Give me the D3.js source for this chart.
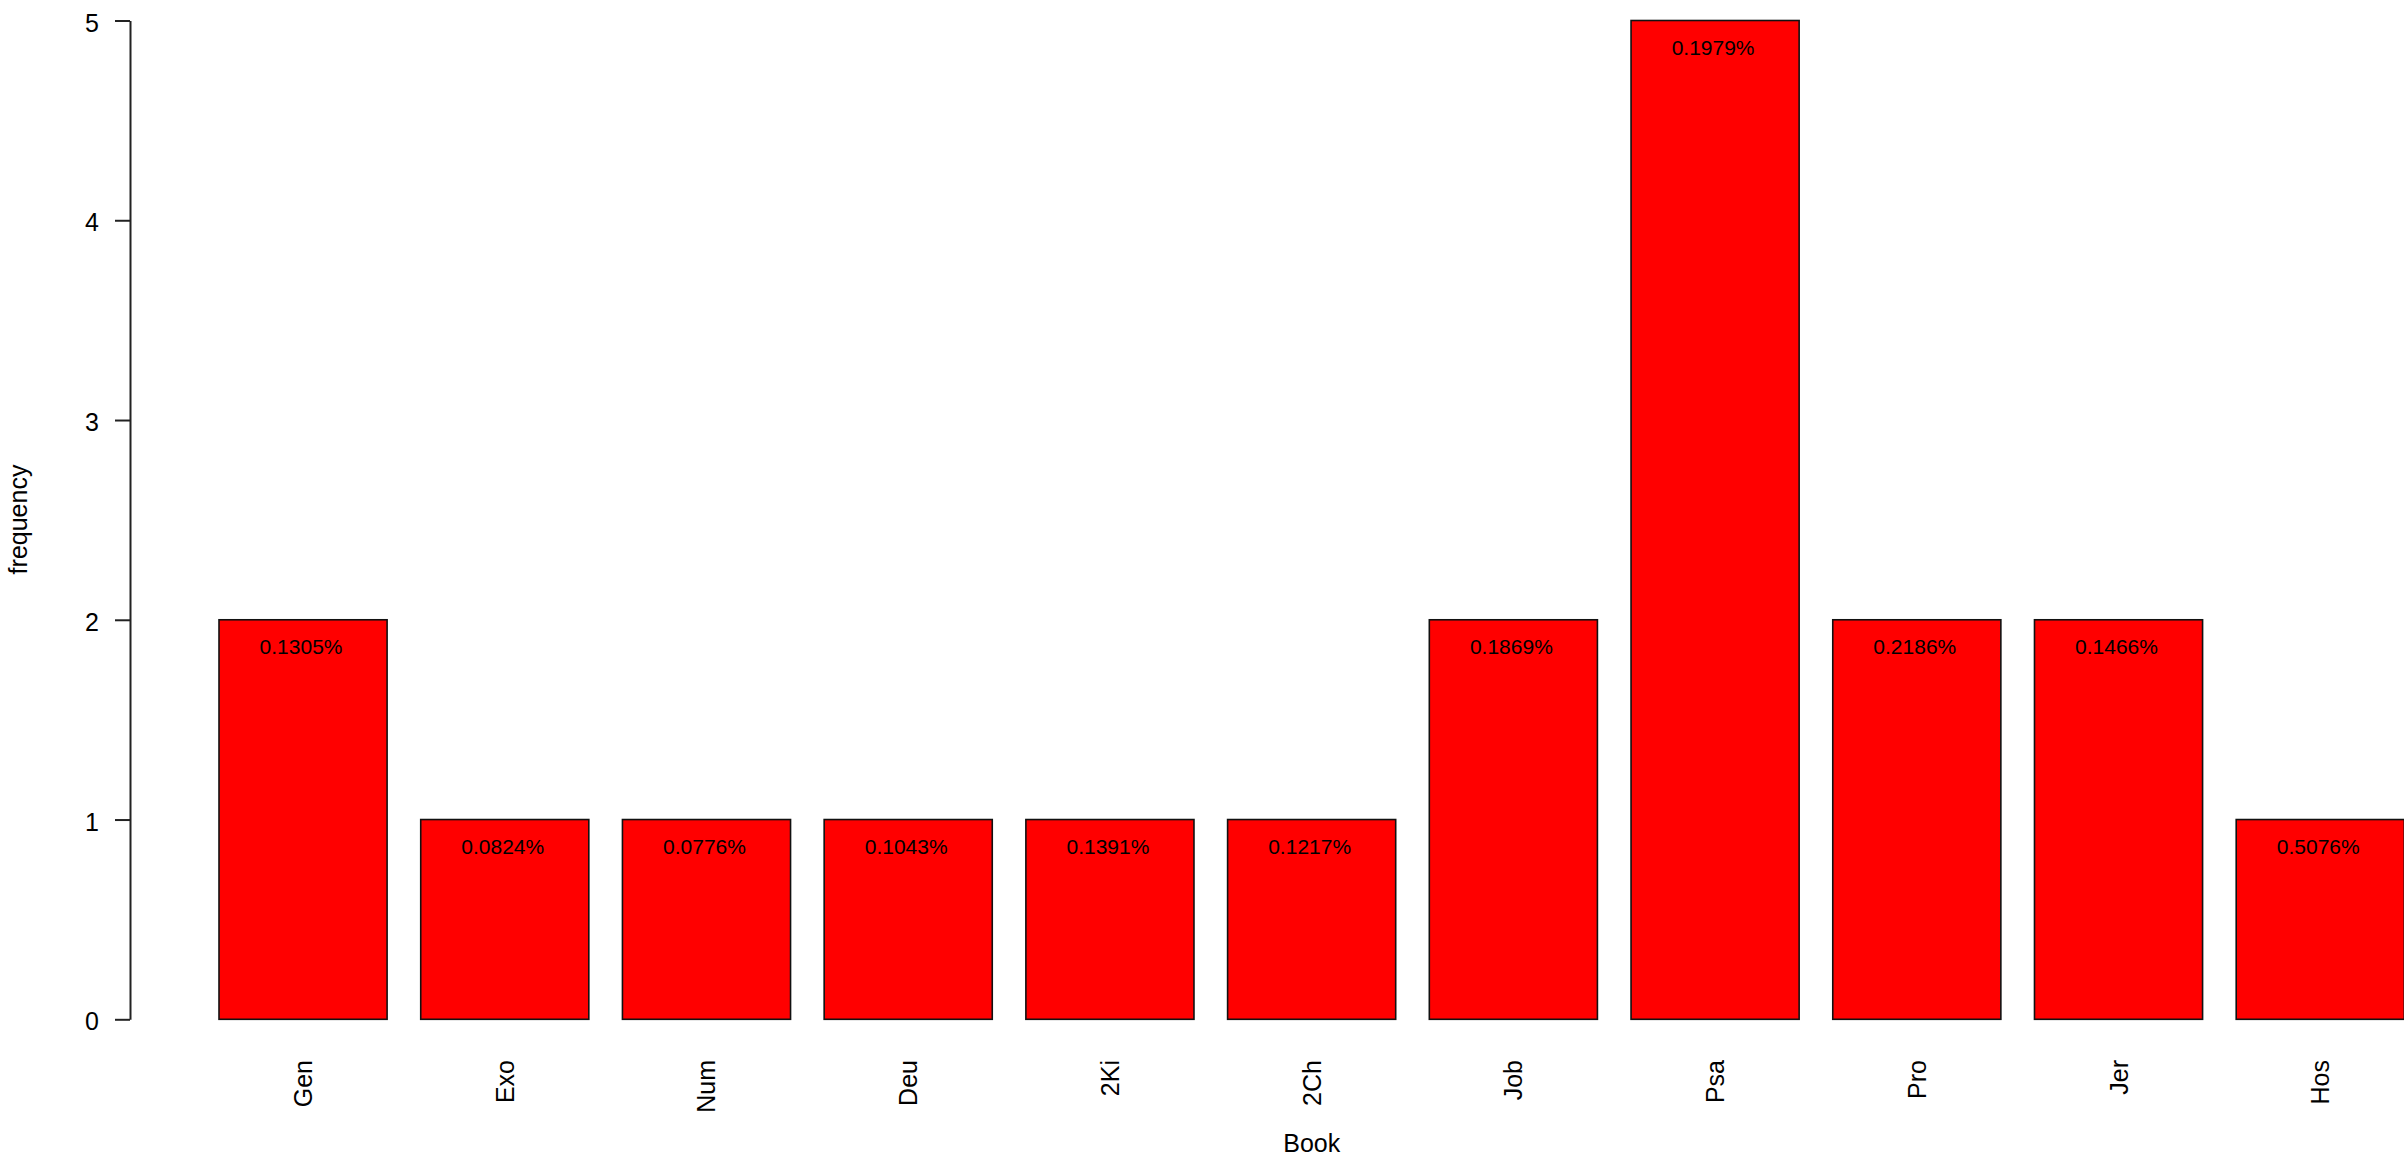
<!DOCTYPE html>
<html>
<head>
<meta charset="utf-8">
<script src="https://cdn.jsdelivr.net/npm/d3@7"></script>
<style>
  html, body { margin: 0; padding: 0; background: #fff; overflow: hidden; }
  svg { display: block; }
  text { font-family: "Liberation Sans", Arial, sans-serif; }
</style>
</head>
<body>
<script>
const books = ["Gen", "Exo", "Num", "Deu", "2Ki", "2Ch", "Job", "Psa", "Pro", "Jer", "Hos"];
const frequency = [2, 1, 1, 1, 1, 1, 2, 5, 2, 2, 1];
const percentLabels = ["0.1305%", "0.0824%", "0.0776%", "0.1043%", "0.1391%", "0.1217%",
                       "0.1869%", "0.1979%", "0.2186%", "0.1466%", "0.5076%"];
const yTicks = [0, 1, 2, 3, 4, 5];

const W = 2404, H = 1159;
const svg = d3.select("body").append("svg").attr("width", W).attr("height", H);

const x = d3.scaleBand()
  .domain(books)
  .range([219, 2404.3])
  .paddingInner(0.2 / 1.2)
  .paddingOuter(0);

const y = d3.scaleLinear().domain([0, 5]).range([1019.3, 20.5]);

// bars
svg.append("g").selectAll("rect")
  .data(books)
  .join("rect")
  .attr("x", d => x(d))
  .attr("y", (d, i) => y(frequency[i]))
  .attr("width", x.bandwidth())
  .attr("height", (d, i) => y(0) - y(frequency[i]))
  .attr("fill", "#ff0000")
  .attr("stroke", "#111")
  .attr("stroke-width", 1.6);

// value labels
svg.append("g").selectAll("text")
  .data(books)
  .join("text")
  .attr("x", d => x(d) + x.bandwidth() / 2 - 2)
  .attr("y", (d, i) => y(frequency[i]) + 34)
  .attr("text-anchor", "middle")
  .attr("font-size", 21)
  .attr("fill", "#000")
  .text((d, i) => percentLabels[i]);

// y axis
const yAxis = d3.axisLeft(y)
  .tickValues(yTicks)
  .tickFormat(d3.format("d"))
  .tickSize(15)
  .tickSizeOuter(0)
  .tickPadding(16);

const gy = svg.append("g")
  .attr("transform", "translate(130,0)")
  .call(yAxis);
gy.select(".domain").attr("stroke", "#222").attr("stroke-width", 2);
gy.selectAll(".tick line").attr("stroke", "#222").attr("stroke-width", 2);
gy.selectAll(".tick text")
  .attr("font-size", 25)
  .attr("fill", "#000")
  .attr("dy", "0.42em")
  .style("font-family", "'Liberation Sans', Arial, sans-serif");

// x category labels (rotated)
svg.append("g").selectAll("text")
  .data(books)
  .join("text")
  .attr("transform", d => `translate(${x(d) + x.bandwidth() / 2},1060) rotate(-90)`)
  .attr("text-anchor", "end")
  .attr("dy", "0.36em")
  .attr("font-size", 25)
  .attr("fill", "#000")
  .text(d => d);

// axis titles
svg.append("text")
  .attr("x", 1311.7)
  .attr("y", 1151.5)
  .attr("text-anchor", "middle")
  .attr("font-size", 25)
  .attr("fill", "#000")
  .text("Book");

svg.append("text")
  .attr("transform", "translate(27,519.5) rotate(-90)")
  .attr("text-anchor", "middle")
  .attr("font-size", 25)
  .attr("fill", "#000")
  .text("frequency");
</script>
</body>
</html>
